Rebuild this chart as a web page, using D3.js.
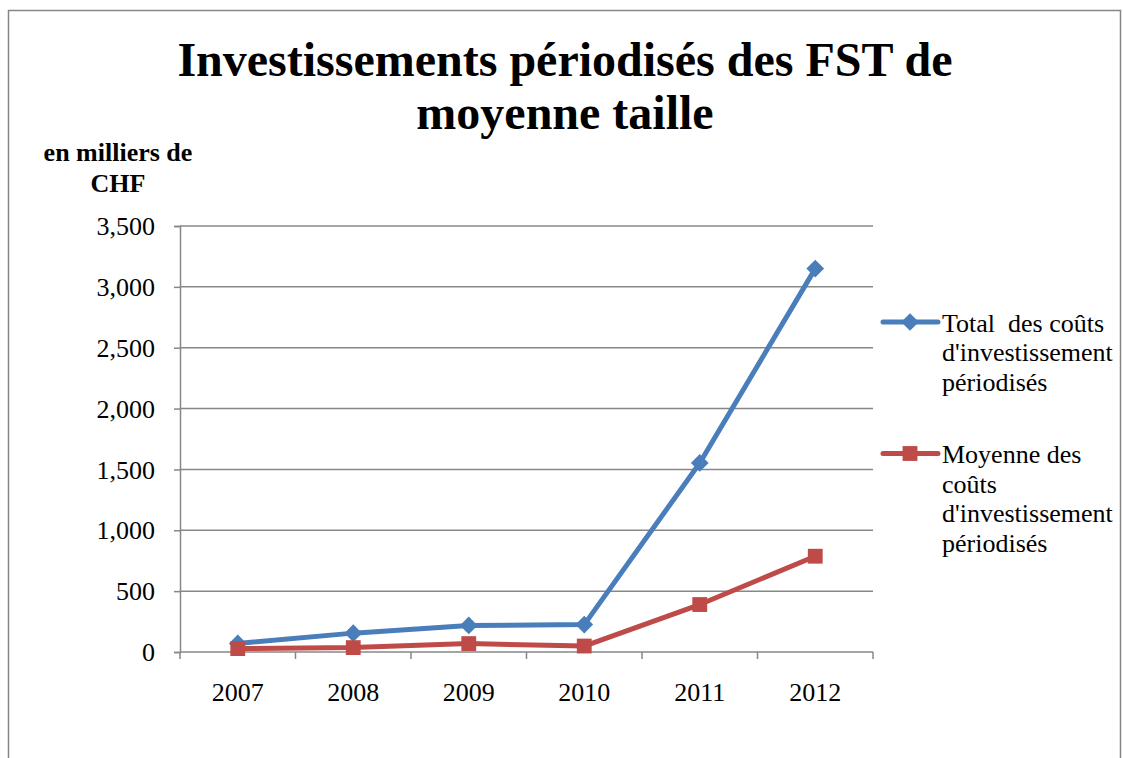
<!DOCTYPE html>
<html>
<head>
  <meta charset="utf-8">
  <script src="https://d3js.org/d3.v7.min.js"></script>
  <style>
    body { margin: 0; background: #fff; }
    text { font-family: "Liberation Serif", "Times New Roman", serif; fill: #000; white-space: pre; }
  </style>
</head>
<body>
  <script>
    // data (milliers de CHF)
    const years = ["2007", "2008", "2009", "2010", "2011", "2012"];
    const totalCosts = [70, 155, 218, 225, 1553, 3150];
    const meanCosts = [28, 36, 69, 49, 390, 787];
    const yTicks = [0, 500, 1000, 1500, 2000, 2500, 3000, 3500];

    const titleLines = ["Investissements périodisés des FST de", "moyenne taille"];
    const unitLines = ["en milliers de", "CHF"];
    const legendTotal = ["Total  des coûts", "d'investissement", "périodisés"];
    const legendMean = ["Moyenne des", "coûts", "d'investissement", "périodisés"];

    const w = 1123, h = 758;
    const plotL = 180, plotR = 873, plotT = 226, plotB = 652;
    const blue = "#4a7ebb", red = "#be4b48", axisGrey = "#878787";

    const svg = d3.select("body").append("svg")
      .attr("width", w)
      .attr("height", h);

    // outer frame
    svg.append("rect")
      .attr("x", 8.5).attr("y", 10.5)
      .attr("width", 1112).attr("height", 760)
      .attr("fill", "none")
      .attr("stroke", axisGrey)
      .attr("stroke-width", 1.5);

    const x = d3.scaleBand().domain(years).range([plotL, plotR]).padding(0);
    const y = d3.scaleLinear().domain([0, 3500]).range([plotB, plotT]);

    // gridlines
    svg.append("g")
      .selectAll("line")
      .data(yTicks.filter(d => d > 0))
      .join("line")
      .attr("x1", plotL).attr("x2", plotR)
      .attr("y1", d => y(d)).attr("y2", d => y(d))
      .attr("stroke", axisGrey)
      .attr("stroke-width", 1.5);

    // y axis
    const yAxis = d3.axisLeft(y)
      .tickValues(yTicks)
      .tickSize(6)
      .tickPadding(19)
      .tickFormat(d3.format(","));
    const gy = svg.append("g")
      .attr("transform", "translate(" + plotL + ",0)")
      .call(yAxis);
    gy.select(".domain").attr("stroke", axisGrey).attr("stroke-width", 1.5);
    gy.selectAll(".tick line").attr("stroke", axisGrey).attr("stroke-width", 1.5);
    gy.selectAll(".tick text")
      .attr("font-size", 26)
      .attr("dy", "0.33em");

    // x axis: ticks between categories
    const gx = svg.append("g")
      .attr("transform", "translate(0," + plotB + ")");
    gx.append("line")
      .attr("x1", plotL).attr("x2", plotR)
      .attr("stroke", axisGrey).attr("stroke-width", 1.5);
    gx.selectAll(".tk")
      .data(years.concat(["end"]))
      .join("line")
      .attr("class", "tk")
      .attr("x1", (d, i) => i < years.length ? x(d) : plotR)
      .attr("x2", (d, i) => i < years.length ? x(d) : plotR)
      .attr("y1", 0).attr("y2", 7)
      .attr("stroke", axisGrey).attr("stroke-width", 1.5);
    gx.selectAll(".lbl")
      .data(years)
      .join("text")
      .attr("class", "lbl")
      .attr("x", d => x(d) + x.bandwidth() / 2)
      .attr("y", 49)
      .attr("text-anchor", "middle")
      .attr("font-size", 26)
      .text(d => d);

    const cx = d => x(d) + x.bandwidth() / 2;
    const line = d3.line()
      .x(d => cx(d.year))
      .y(d => y(d.value));

    const totalData = years.map((yr, i) => ({ year: yr, value: totalCosts[i] }));
    const meanData = years.map((yr, i) => ({ year: yr, value: meanCosts[i] }));

    // series lines
    svg.append("path")
      .datum(totalData)
      .attr("d", line)
      .attr("fill", "none")
      .attr("stroke", blue)
      .attr("stroke-width", 5)
      .attr("stroke-linejoin", "round");
    svg.append("path")
      .datum(meanData)
      .attr("d", line)
      .attr("fill", "none")
      .attr("stroke", red)
      .attr("stroke-width", 5)
      .attr("stroke-linejoin", "round");

    // markers
    const diamond = d3.symbol().type(d3.symbolDiamond2).size(200);
    const square = d3.symbol().type(d3.symbolSquare).size(220);

    svg.append("g")
      .selectAll("path")
      .data(totalData)
      .join("path")
      .attr("d", diamond)
      .attr("transform", d => "translate(" + cx(d.year) + "," + y(d.value) + ")")
      .attr("fill", blue);

    svg.append("g")
      .selectAll("path")
      .data(meanData)
      .join("path")
      .attr("d", square)
      .attr("transform", d => "translate(" + cx(d.year) + "," + y(d.value) + ")")
      .attr("fill", red);

    // title
    svg.append("text")
      .attr("x", 565)
      .attr("y", 76)
      .attr("text-anchor", "middle")
      .attr("font-size", 48)
      .attr("font-weight", "bold")
      .selectAll("tspan")
      .data(titleLines)
      .join("tspan")
      .attr("x", 565)
      .attr("dy", (d, i) => i === 0 ? 0 : 53)
      .text(d => d);

    // unit label
    svg.append("text")
      .attr("x", 118)
      .attr("y", 161)
      .attr("text-anchor", "middle")
      .attr("font-size", 26)
      .attr("font-weight", "bold")
      .selectAll("tspan")
      .data(unitLines)
      .join("tspan")
      .attr("x", 118)
      .attr("dy", (d, i) => i === 0 ? 0 : 31)
      .text(d => d);

    // legend
    function legendItem(yPos, color, sym, lines) {
      const g = svg.append("g").attr("transform", "translate(0," + yPos + ")");
      g.append("line")
        .attr("x1", 883).attr("x2", 938)
        .attr("stroke", color).attr("stroke-width", 5)
        .attr("stroke-linecap", "round");
      g.append("path")
        .attr("d", sym)
        .attr("transform", "translate(910,0)")
        .attr("fill", color);
      g.append("text")
        .attr("x", 942)
        .attr("y", 9.5)
        .attr("font-size", 26)
        .selectAll("tspan")
        .data(lines)
        .join("tspan")
        .attr("x", 942)
        .attr("dy", (d, i) => i === 0 ? 0 : 29.5)
        .text(d => d);
    }
    legendItem(322, blue, diamond, legendTotal);
    legendItem(453.5, red, square, legendMean);
  </script>
</body>
</html>
